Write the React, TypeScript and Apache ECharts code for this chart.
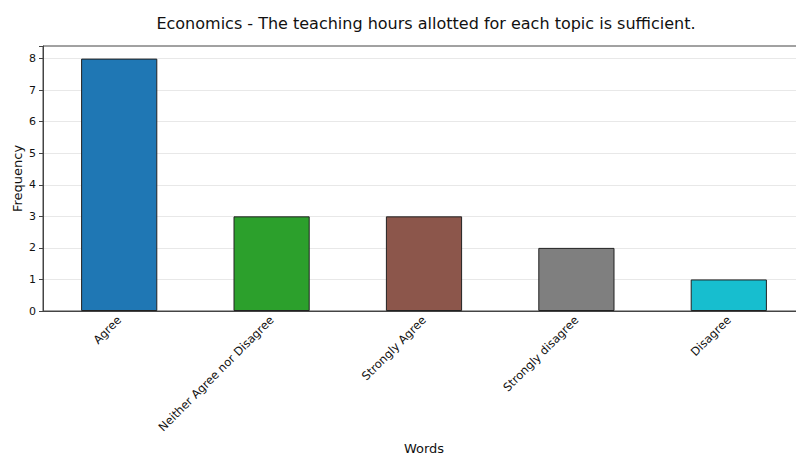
import React, { useEffect, useRef } from "react";
import * as echarts from "echarts";

const categories = ["Agree", "Neither Agree nor Disagree", "Strongly Agree", "Strongly disagree", "Disagree"];
const frequencies = [8, 3, 3, 2, 1];
const barColors = ["#1f77b4", "#2ca02c", "#8c564b", "#7f7f7f", "#17becf"];
const yTicks = [0, 1, 2, 3, 4, 5, 6, 7, 8];
const titleText = "Economics - The teaching hours allotted for each topic is sufficient.";

export default function App() {
  const ref = useRef<HTMLDivElement>(null);
  useEffect(() => {
    if (!ref.current) return;
    const chart = echarts.init(ref.current, null, { renderer: "svg" });
    const font = "DejaVu Sans";
    chart.setOption({
      animation: false,
      title: {
        text: titleText,
        left: 421,
        top: 10,
        textAlign: "center",
        textStyle: { fontFamily: font, fontSize: 16, fontWeight: "normal", color: "#111" },
      },
      grid: {
        left: 43,
        top: 46,
        width: 762,
        height: 265,
        outerBoundsMode: "none",
        containLabel: false,
        show: true,
        borderColor: "#444",
        borderWidth: 1,
        backgroundColor: "transparent",
      },
      xAxis: {
        type: "category",
        data: categories,
        name: "Words",
        nameLocation: "middle",
        nameGap: 131,
        nameMoveOverlap: false,
        nameTextStyle: { fontFamily: font, fontSize: 13, color: "#111" },
        axisLine: { lineStyle: { color: "#444" } },
        axisTick: { alignWithLabel: true, length: 4, lineStyle: { color: "#444" } },
        axisLabel: { rotate: 45, fontFamily: font, fontSize: 11.5, color: "#111", margin: 7 },
      },
      yAxis: {
        type: "value",
        min: 0,
        max: 8.4,
        interval: 1,
        name: "Frequency",
        nameLocation: "middle",
        nameGap: 19,
        nameMoveOverlap: false,
        nameTextStyle: { fontFamily: font, fontSize: 13, color: "#111" },
        axisLine: { show: true, lineStyle: { color: "#444" } },
        axisTick: { show: true, length: 4, lineStyle: { color: "#444" } },
        axisLabel: {
          fontFamily: font,
          fontSize: 11,
          color: "#111",
          margin: 7,
          formatter: (v: number) => (yTicks.includes(v) ? String(v) : ""),
        },
        splitLine: {
          show: true,
          showMaxLine: false,
          lineStyle: { color: "#e8e8e8", type: "solid", width: 1 },
        },
      },
      series: [
        {
          type: "bar",
          barWidth: "50%",
          data: frequencies.map((v, i) => ({
            value: v,
            itemStyle: { color: barColors[i], borderColor: "#222", borderWidth: 1 },
          })),
        },
      ],
    });
    return () => chart.dispose();
  }, []);
  return <div ref={ref} style={{ width: 796, height: 458, position: "absolute", left: 0, top: 0 }} />;
}
